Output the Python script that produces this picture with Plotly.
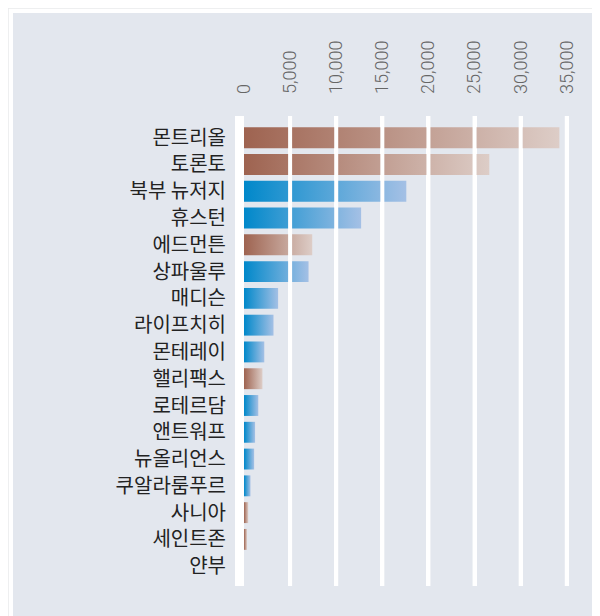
import plotly.graph_objects as go

# ---- data ----
cities = ["몬트리올", "토론토", "북부 뉴저지", "휴스턴", "에드먼튼", "상파울루", "매디슨",
          "라이프치히", "몬테레이", "핼리팩스", "로테르담", "앤트워프", "뉴올리언스",
          "쿠알라룸푸르", "사니아", "세인트존", "얀부"]
values = [34200, 26600, 17600, 12700, 7400, 7000, 3700,
          3200, 2200, 2000, 1550, 1200, 1100,
          700, 460, 320, 0]
groups = ["ca", "ca", "other", "other", "ca", "other", "other",
          "other", "other", "ca", "other", "other", "other",
          "other", "ca", "ca", "other"]
x_ticks = [0, 5000, 10000, 15000, 20000, 25000, 30000, 35000]
x_tick_labels = ["0", "5,000", "10,000", "15,000", "20,000", "25,000", "30,000", "35,000"]

# ---- style ----
W, H = 600, 616
ML, MR, MT, MB = 236, 32, 108, 38
PW, PH = W - ML - MR, H - MT - MB
BG = "#e3e7ee"
GRADIENTS = {
    "ca": [[0, "#9e6350"], [1, "#ddcdc7"]],
    "other": [[0, "#0088ca"], [1, "#a4c0e5"]],
}
HALF = 0.39

def px_x(px):
    return (px - ML) / PW

def px_y(py):
    return (H - MB - py) / PH

fig = go.Figure()

for i, (name, v, g) in enumerate(zip(cities, values, groups)):
    if v <= 0:
        continue
    fig.add_trace(go.Scatter(
        x=[0, v, v, 0, 0],
        y=[i - HALF, i - HALF, i + HALF, i + HALF, i - HALF],
        mode="lines", line=dict(width=0),
        fill="toself",
        fillgradient=dict(type="horizontal", colorscale=GRADIENTS[g]),
        hoverinfo="text", text=f"{name}: {v:,}",
        showlegend=False,
    ))

shapes = [
    # card border
    dict(type="rect", xref="paper", yref="paper", layer="below",
         x0=px_x(0), x1=px_x(660), y0=px_y(680), y1=px_y(0),
         fillcolor="#ffffff", line=dict(color="#e9eaec", width=1.5)),
    dict(type="rect", xref="paper", yref="paper", layer="below",
         x0=px_x(5), x1=px_x(660), y0=px_y(680), y1=px_y(5),
         fillcolor=BG, line=dict(width=0)),
]
# grid lines drawn over the bars
for t in x_ticks[1:]:
    shapes.append(dict(type="line", xref="x", yref="paper", layer="above",
                       x0=t, x1=t, y0=0, y1=1,
                       line=dict(color="#ffffff", width=4)))

fig.update_layout(
    width=W, height=H,
    margin=dict(l=ML, r=MR, t=MT, b=MB),
    paper_bgcolor="#ffffff",
    plot_bgcolor=BG,
    shapes=shapes,
    showlegend=False,
    xaxis=dict(
        side="top", range=[0, 36000],
        tickmode="array", tickvals=x_ticks, ticktext=x_tick_labels,
        tickangle=-90, ticks="",
        tickfont=dict(family="Roboto", size=18, weight=300, color="#666666"),
        ticklabelstandoff=21,
        showgrid=True, gridcolor="#ffffff", gridwidth=4,
        zeroline=False, showline=False,
    ),
    yaxis=dict(
        range=[16.74, -0.81],
        tickmode="array", tickvals=list(range(len(cities))), ticktext=cities,
        ticks="",
        tickfont=dict(family="Noto Sans CJK KR", size=20, color="#222222"),
        showgrid=False, zeroline=False,
        showline=True, linecolor="#ffffff", linewidth=9,
        ticklabelstandoff=5,
    ),
)

fig.write_html("out.html")
